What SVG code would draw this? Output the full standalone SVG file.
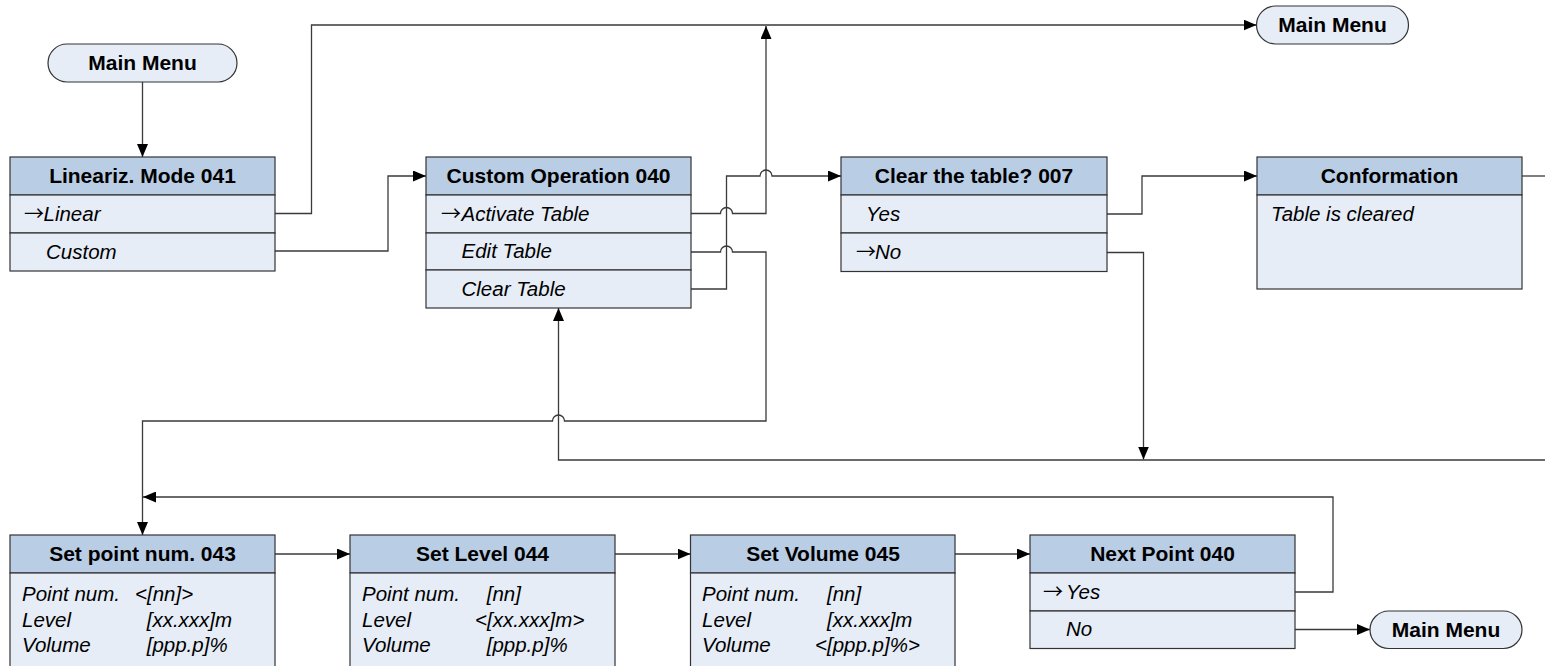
<svg xmlns="http://www.w3.org/2000/svg" width="1545" height="666" viewBox="0 0 1545 666">
<defs>
<style>
.hdr{fill:#B9CDE5;stroke:#333;stroke-width:1.2}
.bd{fill:#E6EDF7;stroke:#333;stroke-width:1.2}
.pill{fill:#E6EDF7;stroke:#333;stroke-width:1.2}
.th{font-family:"Liberation Sans",Arial,sans-serif;font-weight:bold;font-size:21px;text-anchor:middle;fill:#000}
.tb{font-family:"Liberation Sans",Arial,sans-serif;font-style:italic;font-size:20.5px;fill:#000}
.ar{font-family:"Noto Sans CJK JP","DejaVu Sans",sans-serif;font-size:20px;fill:#000}
.c{fill:none;stroke:#3a3a3a;stroke-width:1.3}
.ca{fill:none;stroke:#3a3a3a;stroke-width:1.3;marker-end:url(#arr)}
</style>
<marker id="arr" markerUnits="userSpaceOnUse" markerWidth="13" markerHeight="11" viewBox="0 0 13 11" refX="13" refY="5.5" orient="auto">
<path d="M0,0 L13,5.5 L0,11 z" fill="#000"/>
</marker>
</defs>
<rect width="1545" height="666" fill="#fff"/>

<g id="connectors">
<path class="ca" d="M142.5,82 V157"/>
<path class="ca" d="M275,213.5 H311.5 V25 H1256.5"/>
<path class="ca" d="M275,251 H388 V176 H426"/>
<path class="ca" d="M691,213.5 H720.5 A6,6 0 0 1 732.5,213.5 H766 V26"/>
<path class="ca" d="M691,252 H720.5 A6,6 0 0 1 732.5,252 H766 V421 H564.5 A6,6 0 0 0 552.5,421 H142.5 V535"/>
<path class="ca" d="M691,289 H726.5 V176 H760 A6,6 0 0 1 772,176 H841"/>
<path class="ca" d="M1107,214 H1142 V176 H1257"/>
<path class="ca" d="M1107,252.5 H1143.5 V459.5"/>
<path class="c" d="M1522,176 H1545"/>
<path class="ca" d="M1545,460 H558.5 V308"/>
<path class="ca" d="M275,554 H350"/>
<path class="ca" d="M615,554 H690.5"/>
<path class="ca" d="M955,554 H1030"/>
<path class="ca" d="M1295,592 H1333 V497 H143"/>
<path class="ca" d="M1295,629.5 H1370"/>
</g>

<g id="main-menu-1">
<rect class="pill" x="48" y="44" width="189" height="38" rx="19"/>
<text class="th" x="142.5" y="70">Main Menu</text>
</g>

<g id="main-menu-2">
<rect class="pill" x="1256.5" y="6" width="152" height="38" rx="19"/>
<text class="th" x="1332.5" y="32">Main Menu</text>
</g>

<g id="main-menu-3">
<rect class="pill" x="1370" y="611" width="152" height="37.5" rx="18.75"/>
<text class="th" x="1446" y="636.5">Main Menu</text>
</g>

<g id="lineariz-mode">
<rect class="hdr" x="10" y="157" width="265" height="38"/>
<rect class="bd" x="10" y="195" width="265" height="38"/>
<rect class="bd" x="10" y="233" width="265" height="38"/>
<text class="th" x="142.5" y="183">Lineariz. Mode 041</text>
<text class="ar" x="24" y="221">→</text>
<text class="tb" x="43.5" y="220.5">Linear</text>
<text class="tb" x="46" y="258.5">Custom</text>
</g>

<g id="custom-operation">
<rect class="hdr" x="426" y="157" width="265" height="38"/>
<rect class="bd" x="426" y="195" width="265" height="38"/>
<rect class="bd" x="426" y="233" width="265" height="37"/>
<rect class="bd" x="426" y="270" width="265" height="38"/>
<text class="th" x="558.5" y="183">Custom Operation 040</text>
<text class="ar" x="441" y="221">→</text>
<text class="tb" x="461.5" y="220.5">Activate Table</text>
<text class="tb" x="461.5" y="258">Edit Table</text>
<text class="tb" x="461.5" y="296">Clear Table</text>
</g>

<g id="clear-table">
<rect class="hdr" x="841" y="157" width="266" height="38"/>
<rect class="bd" x="841" y="195" width="266" height="38"/>
<rect class="bd" x="841" y="233" width="266" height="38.5"/>
<text class="th" x="974" y="183">Clear the table? 007</text>
<text class="tb" x="866" y="220.5">Yes</text>
<text class="ar" x="856" y="259">→</text>
<text class="tb" x="875" y="258.5">No</text>
</g>

<g id="conformation">
<rect class="hdr" x="1257" y="157" width="265" height="38"/>
<rect class="bd" x="1257" y="195" width="265" height="94"/>
<text class="th" x="1389.5" y="183">Conformation</text>
<text class="tb" x="1271" y="221">Table is cleared</text>
</g>

<g id="set-point-num">
<rect class="hdr" x="10" y="535" width="265" height="38"/>
<rect class="bd" x="10" y="573" width="265" height="110"/>
<text class="th" x="142.5" y="561">Set point num. 043</text>
<text class="tb" x="22" y="600.5">Point num.</text>
<text class="tb" x="135" y="600.5">&lt;[nn]&gt;</text>
<text class="tb" x="22" y="627">Level</text>
<text class="tb" x="146.7" y="627">[xx.xxx]m</text>
<text class="tb" x="22" y="652">Volume</text>
<text class="tb" x="146.7" y="652">[ppp.p]%</text>
</g>

<g id="set-level">
<rect class="hdr" x="350" y="535" width="265" height="38"/>
<rect class="bd" x="350" y="573" width="265" height="110"/>
<text class="th" x="482.5" y="561">Set Level 044</text>
<text class="tb" x="362" y="600.5">Point num.</text>
<text class="tb" x="486.7" y="600.5">[nn]</text>
<text class="tb" x="362" y="627">Level</text>
<text class="tb" x="475" y="627">&lt;[xx.xxx]m&gt;</text>
<text class="tb" x="362" y="652">Volume</text>
<text class="tb" x="486.7" y="652">[ppp.p]%</text>
</g>

<g id="set-volume">
<rect class="hdr" x="690.5" y="535" width="264.5" height="38"/>
<rect class="bd" x="690.5" y="573" width="264.5" height="110"/>
<text class="th" x="823" y="561">Set Volume 045</text>
<text class="tb" x="702" y="600.5">Point num.</text>
<text class="tb" x="827" y="600.5">[nn]</text>
<text class="tb" x="702" y="627">Level</text>
<text class="tb" x="827" y="627">[xx.xxx]m</text>
<text class="tb" x="702" y="652">Volume</text>
<text class="tb" x="815" y="652">&lt;[ppp.p]%&gt;</text>
</g>

<g id="next-point">
<rect class="hdr" x="1030" y="535" width="265" height="38"/>
<rect class="bd" x="1030" y="573" width="265" height="38"/>
<rect class="bd" x="1030" y="611" width="265" height="37.5"/>
<text class="th" x="1162.5" y="561">Next Point 040</text>
<text class="ar" x="1043" y="599">→</text>
<text class="tb" x="1066" y="598.5">Yes</text>
<text class="tb" x="1066" y="636">No</text>
</g>
</svg>
